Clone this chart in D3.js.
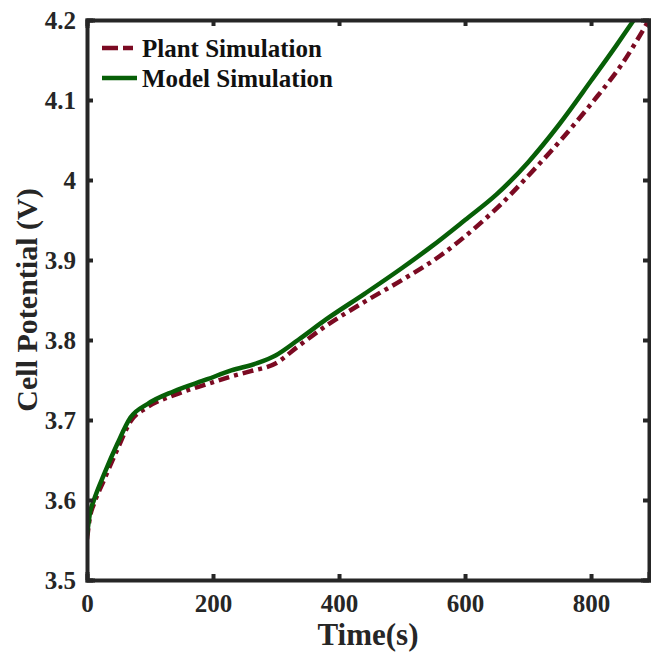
<!DOCTYPE html>
<html>
<head>
<meta charset="utf-8">
<script src="https://cdn.jsdelivr.net/npm/d3@7"></script>
<style>
  body { margin: 0; background: #fff; }
  text { font-family: "Liberation Serif", "Times New Roman", serif; font-weight: bold; fill: #262626; }
</style>
</head>
<body>
<script>
const plantTime = [0, 5, 11, 27, 48, 69, 96, 138, 191, 227, 260, 300, 335, 380, 441, 500, 560, 620, 660, 700, 750, 800, 850, 892];
const plantV    = [3.551, 3.58, 3.595, 3.625, 3.663, 3.698, 3.716, 3.731, 3.745, 3.754, 3.761, 3.771, 3.792, 3.818, 3.848, 3.875, 3.905, 3.943, 3.972, 4.005, 4.048, 4.095, 4.146, 4.2];

const modelTime = [0, 5, 11, 27, 48, 69, 96, 138, 191, 229, 270, 300, 335, 380, 441, 500, 547, 600, 650, 700, 750, 800, 840, 868];
const modelV    = [3.556, 3.585, 3.6, 3.632, 3.67, 3.703, 3.72, 3.736, 3.751, 3.762, 3.771, 3.781, 3.8, 3.826, 3.858, 3.89, 3.917, 3.95, 3.982, 4.022, 4.07, 4.124, 4.168, 4.2];

const xTicks = [0, 200, 400, 600, 800];
const yTicks = [3.5, 3.6, 3.7, 3.8, 3.9, 4, 4.1, 4.2];

const seriesNames = ['Plant Simulation', 'Model Simulation'];
const seriesColors = ['#7b0a22', '#075f07'];

const width = 651, height = 654;
const margin = {top: 20, right: 2, bottom: 74, left: 87};
const axisColor = '#262626';

let svg = d3.select('body').append('svg')
            .attr('width', width)
            .attr('height', height);

let x = d3.scaleLinear()
          .domain([0, 892])
          .range([margin.left, width - margin.right]);

let y = d3.scaleLinear()
          .domain([3.5, 4.2])
          .range([height - margin.bottom, margin.top]);

let line = d3.line()
             .curve(d3.curveMonotoneX)
             .x(d => x(d[0]))
             .y(d => y(d[1]));

let plot = svg.append('g');

plot.append('defs').append('clipPath').attr('id', 'clip')
    .append('rect')
    .attr('x', margin.left).attr('y', margin.top - 1)
    .attr('width', x.range()[1] - margin.left)
    .attr('height', y.range()[0] - margin.top + 1);

let lines = plot.append('g').attr('clip-path', 'url(#clip)');

lines.append('path')
     .datum(plantTime.map((t, i) => [t, plantV[i]]))
     .attr('fill', 'none')
     .attr('stroke', seriesColors[0])
     .attr('stroke-width', 4.5)
     .attr('stroke-dasharray', '11,5,4,5')
     .attr('d', line);

lines.append('path')
     .datum(modelTime.map((t, i) => [t, modelV[i]]))
     .attr('fill', 'none')
     .attr('stroke', seriesColors[1])
     .attr('stroke-width', 4.5)
     .attr('d', line);

// box axes, ticks inward
let tickLen = 6;
let axisBottom = d3.axisBottom(x).tickValues(xTicks).tickSize(-tickLen).tickPadding(14).tickFormat(d3.format('d'));
let axisTop = d3.axisTop(x).tickValues(xTicks).tickSize(-tickLen).tickFormat('');
let axisLeft = d3.axisLeft(y).tickValues(yTicks).tickSize(-tickLen).tickPadding(11).tickFormat(d => String(d));
let axisRight = d3.axisRight(y).tickValues(yTicks).tickSize(-tickLen).tickFormat('');

function styleAxis(g) {
  g.select('.domain').attr('stroke', axisColor).attr('stroke-width', 4);
  g.selectAll('.tick line').attr('stroke', axisColor).attr('stroke-width', 4);
  g.selectAll('.tick text').attr('font-size', 25).attr('fill', axisColor)
   .style('font-family', '"Liberation Serif", serif').style('font-weight', 'bold');
}

svg.append('g').attr('transform', `translate(0,${y.range()[0]})`).call(axisBottom).call(styleAxis);
svg.append('g').attr('transform', `translate(0,${margin.top})`).call(axisTop).call(styleAxis);
svg.append('g').attr('transform', `translate(${margin.left},0)`).call(axisLeft).call(styleAxis);
svg.append('g').attr('transform', `translate(${x.range()[1]},0)`).call(axisRight).call(styleAxis);

svg.selectAll('.domain').attr('stroke-linecap', 'square');

// labels
svg.append('text')
   .attr('x', (margin.left + x.range()[1]) / 2)
   .attr('y', 645)
   .attr('text-anchor', 'middle')
   .attr('font-size', 31)
   .text('Time(s)');

svg.append('text')
   .attr('transform', `translate(37,${(margin.top + y.range()[0]) / 2}) rotate(-90)`)
   .attr('text-anchor', 'middle')
   .attr('font-size', 30)
   .text('Cell Potential (V)');

// legend
let legend = svg.append('g');
seriesNames.forEach((name, i) => {
  let ly = 48 + i * 30;
  legend.append('line')
        .attr('x1', 102).attr('x2', 137)
        .attr('y1', ly).attr('y2', ly)
        .attr('stroke', seriesColors[i])
        .attr('stroke-width', 4.5)
        .attr('stroke-dasharray', i === 0 ? '16,5,10,40' : null);
  legend.append('text')
        .attr('x', 142).attr('y', ly + 9)
        .attr('font-size', 25)
        .style('fill', '#111')
        .text(name);
});
</script>
</body>
</html>
